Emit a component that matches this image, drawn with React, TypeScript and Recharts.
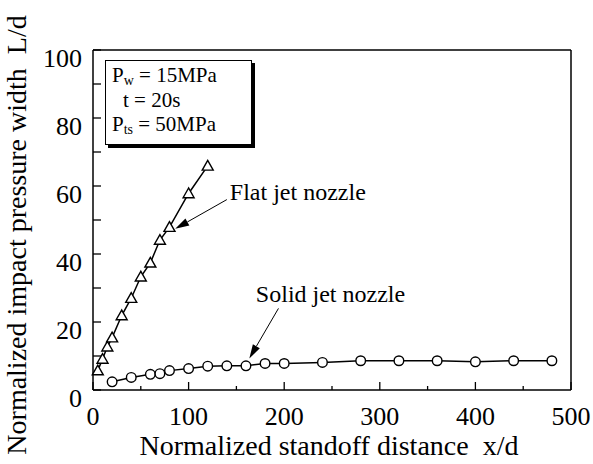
import React from 'react';
import { ScatterChart, Scatter, XAxis, YAxis, ReferenceLine } from 'recharts';

// values
const flatX = [5, 10, 15, 20, 30, 40, 50, 60, 70, 80, 100, 120];
const flatY = [5.7, 9.1, 12.7, 15.4, 21.9, 27, 33.3, 37.4, 44.1, 47.9, 57.8, 65.9];
const solidX = [20, 40, 60, 70, 80, 100, 120, 140, 160, 180, 200, 240, 280, 320, 360, 400, 440, 480];
const solidY = [2.4, 3.7, 4.6, 4.8, 5.7, 6.3, 7.0, 7.1, 7.1, 7.8, 7.8, 8.1, 8.6, 8.6, 8.6, 8.3, 8.6, 8.6];

const xTicks = [0, 50, 100, 150, 200, 250, 300, 350, 400, 450, 500];
const xLabels = [0, 100, 200, 300, 400, 500];
const yTicks = [0, 10, 20, 30, 40, 50, 60, 70, 80, 90, 100];
const yLabels = [0, 20, 40, 60, 80, 100];

// annotation arrows (data coords): start near the label, end at the curve
const flatArrow = [{ x: 140, y: 56 }, { x: 86, y: 47.4 }];
const solidArrow = [{ x: 194, y: 24 }, { x: 163.5, y: 9.3 }];

const flatData = flatX.map((x, i) => ({ x, y: flatY[i] }));
const solidData = solidX.map((x, i) => ({ x, y: solidY[i] }));

const FONT = '"Liberation Serif", "Times New Roman", serif';

const BottomTick = ({ x, y, payload }: any) => {
  const v = payload.value;
  const major = xLabels.includes(v);
  return (
    <g>
      <line x1={x} y1={y} x2={x} y2={y - (major ? 8 : 4)} stroke="#000" strokeWidth={1.3} />
      {major && (
        <text x={x} y={y + 35} textAnchor="middle" fontSize={26} fontFamily={FONT} fill="#000">
          {v}
        </text>
      )}
    </g>
  );
};

const TopTick = ({ x, y, payload }: any) => {
  const major = xLabels.includes(payload.value);
  return <line x1={x} y1={y} x2={x} y2={y + (major ? 7 : 4)} stroke="#000" strokeWidth={1.3} />;
};

const LeftTick = ({ x, y, payload }: any) => {
  const v = payload.value;
  return (
    <g>
      <line x1={x} y1={y} x2={x + 8} y2={y} stroke="#000" strokeWidth={1.3} />
      {yLabels.includes(v) && (
        <text x={x - 11} y={y + 17} textAnchor="end" fontSize={26} fontFamily={FONT} fill="#000">
          {v}
        </text>
      )}
    </g>
  );
};

const RightTick = ({ x, y }: any) => (
  <line x1={x} y1={y} x2={x - 8} y2={y} stroke="#000" strokeWidth={1.3} />
);

const XTitle = (props: any) => {
  const { x, y, width } = props.viewBox;
  return (
    <text x={x + width / 2 - 3} y={y + 65} textAnchor="middle" fontSize={28} fontFamily={FONT} fill="#000" style={{ whiteSpace: 'pre' }}>
      {'Normalized standoff distance  x/d'}
    </text>
  );
};

const YTitle = (props: any) => {
  const { y, height } = props.viewBox;
  const cx = 26;
  const cy = y + height / 2 + 15;
  return (
    <text x={cx} y={cy} textAnchor="middle" fontSize={28} fontFamily={FONT} fill="#000" transform={`rotate(-90, ${cx}, ${cy})`} style={{ whiteSpace: 'pre' }}>
      {'Normalized impact pressure width  L/d'}
    </text>
  );
};

const Triangle = ({ cx, cy }: any) => (
  <polygon
    points={`${cx},${cy - 5.5} ${cx - 5.5},${cy + 4.2} ${cx + 5.5},${cy + 4.2}`}
    fill="#fff"
    stroke="#000"
    strokeWidth={1.4}
  />
);

const Circle = ({ cx, cy }: any) => (
  <circle cx={cx} cy={cy} r={4.8} fill="#fff" stroke="#000" strokeWidth={1.4} />
);

const arrowShape = (label: string, dx: number, dy: number) => (props: any) => {
  const { x1, y1, x2, y2 } = props;
  const ang = Math.atan2(y2 - y1, x2 - x1);
  const len = 14;
  const hw = 4;
  const bx = x2 - len * Math.cos(ang);
  const by = y2 - len * Math.sin(ang);
  const px = -Math.sin(ang) * hw;
  const py = Math.cos(ang) * hw;
  return (
    <g>
      <line x1={x1} y1={y1} x2={bx} y2={by} stroke="#000" strokeWidth={1} />
      <polygon points={`${x2},${y2} ${bx + px},${by + py} ${bx - px},${by - py}`} fill="#000" />
      <text x={x1 + dx} y={y1 + dy} fontSize={24} fontFamily={FONT} fill="#000">
        {label}
      </text>
    </g>
  );
};

const lineText: React.CSSProperties = {
  position: 'absolute',
  fontFamily: FONT,
  fontSize: 21,
  lineHeight: '23px',
  whiteSpace: 'pre',
  color: '#000',
};
const sub: React.CSSProperties = { fontSize: 14, position: 'relative', top: 2.5 };

export default function App() {
  return (
    <div style={{ position: 'absolute', left: 0, top: 0, width: 593, height: 464, background: '#fff' }}>
      <ScatterChart width={593} height={464} margin={{ top: 49, right: 21, bottom: 0, left: 0 }}>
        <XAxis
          type="number"
          dataKey="x"
          domain={[0, 500]}
          ticks={xTicks}
          interval={0}
          height={74}
          tickSize={0}
          tickMargin={0}
          tickLine={false}
          axisLine={{ stroke: '#000', strokeWidth: 1.5 }}
          tick={<BottomTick />}
          label={XTitle}
        />
        <XAxis
          xAxisId="top"
          orientation="top"
          type="number"
          domain={[0, 500]}
          ticks={xTicks}
          interval={0}
          height={1}
          tickSize={0}
          tickMargin={0}
          tickLine={false}
          axisLine={{ stroke: '#000', strokeWidth: 1.5 }}
          tick={<TopTick />}
        />
        <YAxis
          type="number"
          dataKey="y"
          domain={[0, 100]}
          ticks={yTicks}
          interval={0}
          width={93}
          tickSize={0}
          tickMargin={0}
          tickLine={false}
          axisLine={{ stroke: '#000', strokeWidth: 1.5 }}
          tick={<LeftTick />}
          label={YTitle}
        />
        <YAxis
          yAxisId="right"
          orientation="right"
          type="number"
          domain={[0, 100]}
          ticks={yTicks}
          interval={0}
          width={1}
          tickSize={0}
          tickMargin={0}
          tickLine={false}
          axisLine={{ stroke: '#000', strokeWidth: 1.5 }}
          tick={<RightTick />}
        />
        <Scatter
          data={solidData}
          line={{ stroke: '#000', strokeWidth: 1.5 }}
          shape={<Circle />}
          isAnimationActive={false}
        />
        <Scatter
          data={flatData}
          line={{ stroke: '#000', strokeWidth: 1.5 }}
          shape={<Triangle />}
          isAnimationActive={false}
        />
        <ReferenceLine segment={flatArrow} ifOverflow="visible" shape={arrowShape('Flat jet nozzle', 3, 0)} />
        <ReferenceLine segment={solidArrow} ifOverflow="visible" shape={arrowShape('Solid jet nozzle', -22.6, -6.6)} />
      </ScatterChart>
      <div
        style={{
          position: 'absolute',
          left: 105,
          top: 60,
          width: 147,
          height: 85,
          boxSizing: 'border-box',
          border: '1px solid #000',
          boxShadow: '3px 3px 0 #000',
          background: '#fff',
        }}
      />
      <div style={{ ...lineText, left: 112, top: 64 }}>
        P<span style={sub}>w</span> = 15MPa
      </div>
      <div style={{ ...lineText, left: 123, top: 88.5 }}>t = 20s</div>
      <div style={{ ...lineText, left: 112, top: 113 }}>
        P<span style={sub}>ts</span> = 50MPa
      </div>
    </div>
  );
}
